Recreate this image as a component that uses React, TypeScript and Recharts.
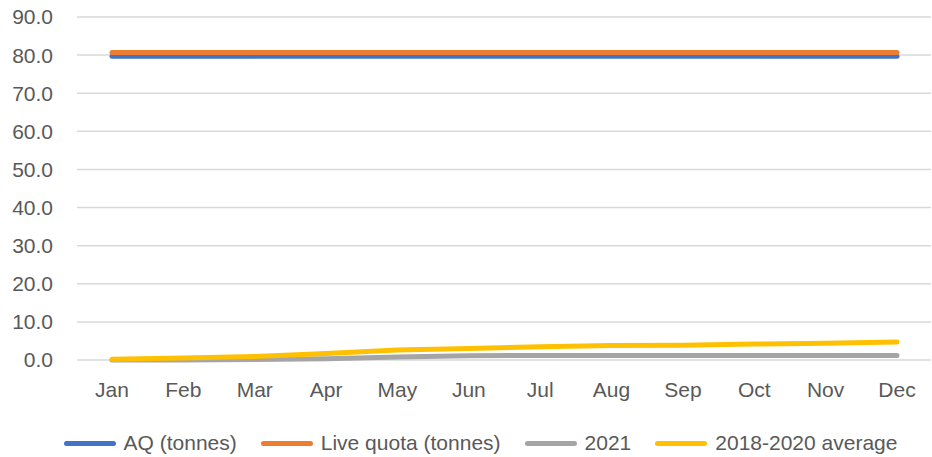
import React from "react";
import { LineChart, Line, XAxis, YAxis, CartesianGrid, Legend } from "recharts";

const months = ["Jan", "Feb", "Mar", "Apr", "May", "Jun", "Jul", "Aug", "Sep", "Oct", "Nov", "Dec"];
const aq = [79.7, 79.7, 79.7, 79.7, 79.7, 79.7, 79.7, 79.7, 79.7, 79.7, 79.7, 79.7];
const liveQuota = [80.7, 80.7, 80.7, 80.7, 80.7, 80.7, 80.7, 80.7, 80.7, 80.7, 80.7, 80.7];
const y2021 = [0.0, 0.0, 0.1, 0.3, 0.8, 1.1, 1.2, 1.2, 1.2, 1.2, 1.2, 1.2];
const avg = [0.2, 0.5, 0.9, 1.7, 2.6, 3.0, 3.5, 3.8, 3.9, 4.2, 4.4, 4.7];
const yTicks = [0, 10, 20, 30, 40, 50, 60, 70, 80, 90];

const series = [
  { key: "aq", name: "AQ (tonnes)", color: "#4472C4" },
  { key: "live", name: "Live quota (tonnes)", color: "#ED7D31" },
  { key: "y2021", name: "2021", color: "#A5A5A5" },
  { key: "avg", name: "2018-2020 average", color: "#FFC000" },
];

const data = months.map((m, i) => ({
  month: m,
  aq: aq[i],
  live: liveQuota[i],
  y2021: y2021[i],
  avg: avg[i],
}));

const font = "'Liberation Sans', Arial, sans-serif";

const renderLegend = () => (
  <div
    style={{
      display: "flex",
      justifyContent: "center",
      alignItems: "center",
      gap: 24,
      paddingLeft: 30,
      fontFamily: font,
      fontSize: 21,
      color: "#595959",
    }}
  >
    {series.map((s) => (
      <div key={s.key} style={{ display: "flex", alignItems: "center" }}>
        <span style={{ display: "inline-block", width: 52, height: 5, borderRadius: 3, background: s.color, marginRight: 8 }} />
        <span>{s.name}</span>
      </div>
    ))}
  </div>
);

export default function App() {
  return (
    <div style={{ position: "absolute", left: 0, top: 0, width: 932, height: 457, background: "#fff" }}>
      <LineChart width={932} height={457} data={data} margin={{ top: 17, right: 1, left: 0, bottom: 2 }}>
        <CartesianGrid vertical={false} stroke="#D9D9D9" strokeWidth={1.5} />
        <XAxis
          dataKey="month"
          axisLine={false}
          tickLine={false}
          padding={{ left: 35, right: 34 }}
          height={71}
          tick={{ fill: "#595959", fontSize: 21, fontFamily: font }}
          tickMargin={16}
        />
        <YAxis
          domain={[0, 90]}
          ticks={yTicks}
          axisLine={false}
          tickLine={false}
          width={77}
          tickFormatter={(v: number) => v.toFixed(1)}
          tick={{ fill: "#595959", fontSize: 21, fontFamily: font }}
          tickMargin={18}
        />
        <Legend verticalAlign="bottom" content={renderLegend} />
        {series.map((s) => (
          <Line
            key={s.key}
            dataKey={s.key}
            name={s.name}
            stroke={s.color}
            strokeWidth={5}
            strokeLinecap="round"
            dot={false}
            activeDot={false}
            isAnimationActive={false}
          />
        ))}
      </LineChart>
    </div>
  );
}
